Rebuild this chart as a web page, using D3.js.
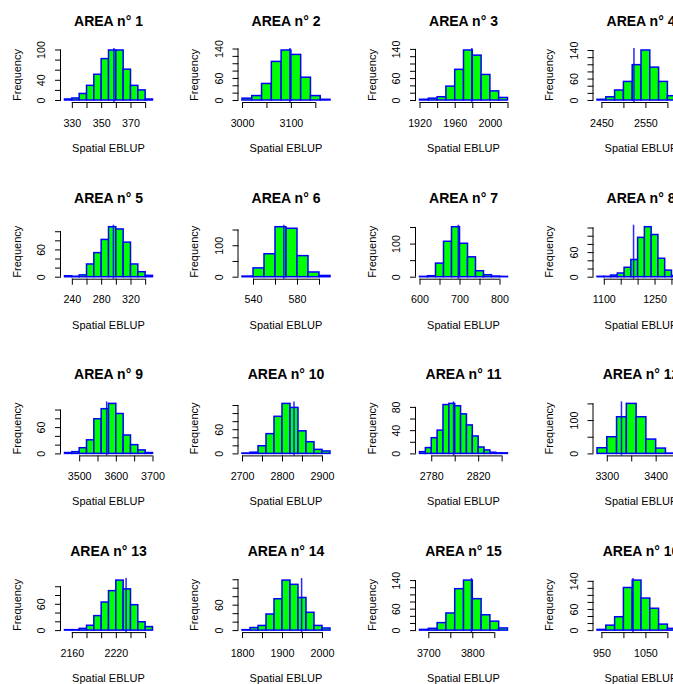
<!DOCTYPE html>
<html lang="en">
<head>
    <meta charset="UTF-8">
    <title>Spatial EBLUP histograms</title>
    <script src="https://d3js.org/d3.v7.min.js"></script>
    <style>
        body { margin: 0; background: #fff; }
        svg text { font-family: "Liberation Sans", Arial, Helvetica, sans-serif; fill: #000; }
    </style>
</head>
<body>

<svg id="chart"></svg>

<script>
// one histogram of the bootstrap spatial EBLUP per area
var areas = [1, 2, 3, 4, 5, 6, 7, 8, 9, 10, 11, 12, 13, 14, 15, 16];

// first break and bin width of each histogram
var binStart = [325, 3000, 1920, 2440, 230, 530, 600, 1080, 3460, 2700, 2770, 3280, 2150, 1800, 3680, 940];
var binWidth = [5, 20, 10, 20, 10, 10, 20, 20, 20, 20, 5, 20, 10, 20, 20, 20];

// frequencies per bin
var counts = [
    [2, 4, 13, 29, 51, 82, 99, 99, 61, 29, 20, 2],
    [5, 12, 45, 105, 136, 124, 62, 12, 2],
    [2, 5, 9, 38, 84, 137, 123, 70, 25, 7],
    [2, 9, 28, 52, 99, 140, 92, 52, 12, 4],
    [2, 1, 4, 28, 53, 82, 110, 105, 76, 28, 11, 3],
    [2, 28, 73, 159, 154, 67, 15, 4],
    [1, 3, 41, 107, 151, 101, 60, 18, 6, 2, 1],
    [1, 1, 4, 9, 23, 42, 96, 122, 103, 45, 16, 3, 1],
    [2, 4, 13, 31, 79, 102, 114, 91, 42, 20, 8, 2],
    [1, 3, 19, 49, 92, 124, 114, 56, 29, 10, 6],
    [3, 10, 27, 40, 84, 86, 82, 68, 49, 30, 11, 6, 2, 1, 1],
    [17, 50, 110, 150, 110, 43, 16, 1, 2],
    [1, 1, 4, 11, 33, 64, 90, 114, 94, 58, 19, 8],
    [1, 6, 11, 38, 74, 118, 108, 77, 42, 11, 5],
    [2, 5, 21, 48, 116, 140, 88, 43, 25, 6],
    [2, 14, 38, 121, 142, 91, 62, 17, 5, 1]
];

// spatial EBLUP of the sample (vertical line)
var eblup = [358.7, 3098, 1979.5, 2524, 296.7, 568, 697, 1188, 3575, 2830, 2799, 3330, 2234, 1949, 3798, 1022];

// tick labels that are printed (the others are left blank)
var xLabels = [
    [330, 350, 370], [3000, 3100], [1920, 1960, 2000], [2450, 2550],
    [240, 280, 320], [540, 580], [600, 700, 800], [1100, 1250],
    [3500, 3600, 3700], [2700, 2800, 2900], [2780, 2820], [3300, 3400],
    [2160, 2220], [1800, 1900, 2000], [3700, 3800], [950, 1050]
];
var yLabels = [
    [0, 40, 100], [0, 60, 140], [0, 60, 140], [0, 60, 140],
    [0, 60], [0, 100], [0, 100], [0, 60],
    [0, 60], [0, 60], [0, 40, 80], [0, 100],
    [0, 60], [0, 60], [0, 60, 140], [0, 60, 140]
];

var width = 673;
var height = 684;
var cellW = 177.5;
var cellH = 176.7;
var plot = {left: 61, top: 48, w: 95, h: 54};

var svg = d3.select("#chart")
    .attr("width", width)
    .attr("height", height);

areas.forEach(function(area, i) {
    var col = i % 4;
    var row = Math.floor(i / 4);
    var g = svg.append("g")
        .attr("transform", "translate(" + (col * cellW + plot.left) + "," + (row * cellH + plot.top) + ")");

    var lo = binStart[i];
    var hi = binStart[i] + counts[i].length * binWidth[i];
    var bins = counts[i].map(function(c, j) {
        return {x0: lo + j * binWidth[i], x1: lo + (j + 1) * binWidth[i], count: c};
    });
    var maxC = d3.max(counts[i]);

    // 4% extension on both axes, like R
    var pad = 0.04 * (hi - lo);
    var x = d3.scaleLinear().domain([lo - pad, hi + pad]).range([0, plot.w]);
    var y = d3.scaleLinear().domain([-0.04 * maxC, 1.04 * maxC]).range([plot.h, 0]);

    // bars
    g.selectAll("rect.bar")
        .data(bins)
        .join("rect")
        .attr("class", "bar")
        .attr("x", function(d) { return x(d.x0); })
        .attr("y", function(d) { return y(d.count); })
        .attr("width", function(d) { return x(d.x1) - x(d.x0); })
        .attr("height", function(d) { return y(0) - y(d.count); })
        .attr("fill", "#00ff00")
        .attr("stroke", "#0000ff")
        .attr("stroke-width", 1.5);

    // EBLUP line over the whole plot region
    g.append("line")
        .attr("x1", x(eblup[i]))
        .attr("x2", x(eblup[i]))
        .attr("y1", 0)
        .attr("y2", plot.h)
        .attr("stroke", "#0000ff")
        .attr("stroke-opacity", 0.85)
        .attr("stroke-width", 1.5);

    // x axis
    var xt = x.ticks(5);
    var gx = g.append("g")
        .attr("transform", "translate(0," + plot.h + ")")
        .call(d3.axisBottom(x)
            .tickValues(xt)
            .tickSize(6)
            .tickSizeOuter(0)
            .tickPadding(11)
            .tickFormat(function(d) { return xLabels[i].indexOf(d) >= 0 ? d : ""; }))
        .attr("font-size", 10.7);
    gx.select(".domain").remove();
    gx.append("line")
        .attr("x1", x(xt[0]))
        .attr("x2", x(xt[xt.length - 1]))
        .attr("y1", 0.5)
        .attr("y2", 0.5)
        .attr("stroke", "#000");

    // y axis, labels parallel to the axis
    var yt = y.ticks(5);
    var gy = g.append("g")
        .call(d3.axisLeft(y)
            .tickValues(yt)
            .tickSize(6)
            .tickSizeOuter(0)
            .tickFormat(function(d) { return yLabels[i].indexOf(d) >= 0 ? d : ""; }))
        .attr("font-size", 10.7);
    gy.select(".domain").remove();
    gy.append("line")
        .attr("x1", -0.5)
        .attr("x2", -0.5)
        .attr("y1", y(yt[0]))
        .attr("y2", y(yt[yt.length - 1]))
        .attr("stroke", "#000");
    gy.selectAll(".tick text")
        .attr("transform", "rotate(-90)")
        .attr("x", 0)
        .attr("y", -16)
        .attr("dy", 0)
        .attr("text-anchor", "middle");

    // titles
    g.append("text")
        .attr("x", plot.w / 2)
        .attr("y", 26 - plot.top)
        .attr("text-anchor", "middle")
        .attr("font-size", 14)
        .attr("font-weight", "bold")
        .text("AREA n° " + area);

    g.append("text")
        .attr("x", plot.w / 2)
        .attr("y", 152 - plot.top)
        .attr("text-anchor", "middle")
        .attr("font-size", 11)
        .text("Spatial EBLUP");

    g.append("text")
        .attr("transform", "translate(" + (20.5 - plot.left) + "," + (plot.h / 2) + ") rotate(-90)")
        .attr("text-anchor", "middle")
        .attr("font-size", 11)
        .text("Frequency");
});
</script>

</body>
</html>
